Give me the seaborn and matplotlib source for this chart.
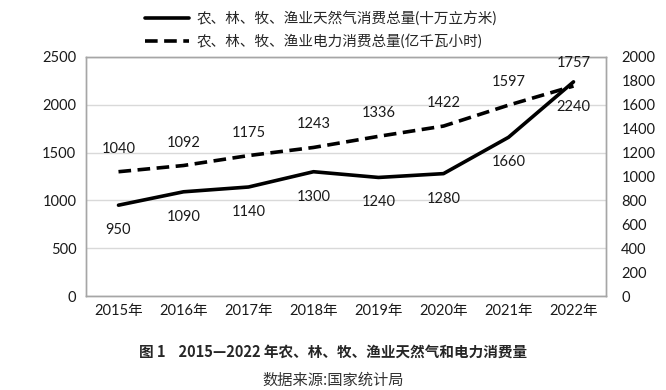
import matplotlib
matplotlib.use('Agg')
import matplotlib.pyplot as plt
from matplotlib.lines import Line2D
import seaborn as sns
import pandas as pd

years = ['2015年', '2016年', '2017年', '2018年', '2019年', '2020年', '2021年', '2022年']
gas = [950, 1090, 1140, 1300, 1240, 1280, 1660, 2240]
elec = [1040, 1092, 1175, 1243, 1336, 1422, 1597, 1757]
gas_label = '农、林、牧、渔业天然气消费总量(十万立方米)'
elec_label = '农、林、牧、渔业电力消费总量(亿千瓦小时)'
caption = '图 1    2015—2022 年农、林、牧、渔业天然气和电力消费量'
source = '数据来源:国家统计局'

sns.set_theme(style='white')
plt.rcParams['font.family'] = ['Lato', 'Noto Sans CJK SC', 'DejaVu Sans']

df = pd.DataFrame({'pos': range(len(years)), 'year': years, 'gas': gas, 'elec': elec})

fig = plt.figure(figsize=(6.66, 3.9), dpi=100)
ax = fig.add_axes([86 / 666, 1 - 296 / 390, 520 / 666, 239 / 390])

sns.lineplot(data=df, x='pos', y='gas', ax=ax, color='black', linewidth=2.6)
ax.set_xlim(-0.5, len(years) - 0.5)
ax.set_ylim(0, 2500)
ax.set_yticks(range(0, 2501, 500))
ax.set_xticks(df['pos'], years)
ax.yaxis.grid(True, color='#d9d9d9', linewidth=1)
ax.set_axisbelow(True)
ax.set_xlabel('')
ax.set_ylabel('')

ax2 = ax.twinx()
sns.lineplot(data=df, x='pos', y='elec', ax=ax2, color='black', linewidth=2.6)
ax2.lines[0].set_dashes((3.5, 1.8))
ax2.set_ylim(0, 2000)
ax2.set_yticks(range(0, 2001, 200))
ax2.set_ylabel('')
ax2.set_xlim(-0.5, len(years) - 0.5)

for a in (ax, ax2):
    for s in a.spines.values():
        s.set_color('#a6a6a6')
        s.set_linewidth(1)
    a.tick_params(length=0, labelsize=10.5, labelcolor='#1a1a1a')
ax.tick_params(axis='y', pad=7)
ax.tick_params(axis='x', pad=6)
ax2.tick_params(axis='y', pad=11)

for i, v in enumerate(gas):
    ax.annotate(str(v), (i, v), xytext=(0, -25), textcoords='offset pixels',
                ha='center', va='center', fontsize=10.5, color='#1a1a1a')
for i, v in enumerate(elec):
    ax2.annotate(str(v), (i, v), xytext=(0, 23), textcoords='offset pixels',
                 ha='center', va='center', fontsize=10.5, color='#1a1a1a')

handles = [Line2D([], [], color='black', linewidth=2.6),
           Line2D([], [], color='black', linewidth=2.6, dashes=(3.5, 1.8))]
fig.legend(handles, [gas_label, elec_label], loc='center',
           bbox_to_anchor=(321 / 666, 1 - 30 / 390), frameon=False,
           fontsize=10.5, handlelength=3, handletextpad=0.5, labelspacing=0.6)

fig.text(0.5, 1 - 352 / 390, caption, ha='center', va='center', fontsize=10.5,
         fontweight='bold', family=['Noto Sans CJK SC', 'DejaVu Sans'])
fig.text(0.5, 1 - 380 / 390, source, ha='center', va='center', fontsize=11,
         color='#333333', family=['Noto Sans CJK SC', 'DejaVu Sans'])

fig.savefig('out.png', dpi=100)
